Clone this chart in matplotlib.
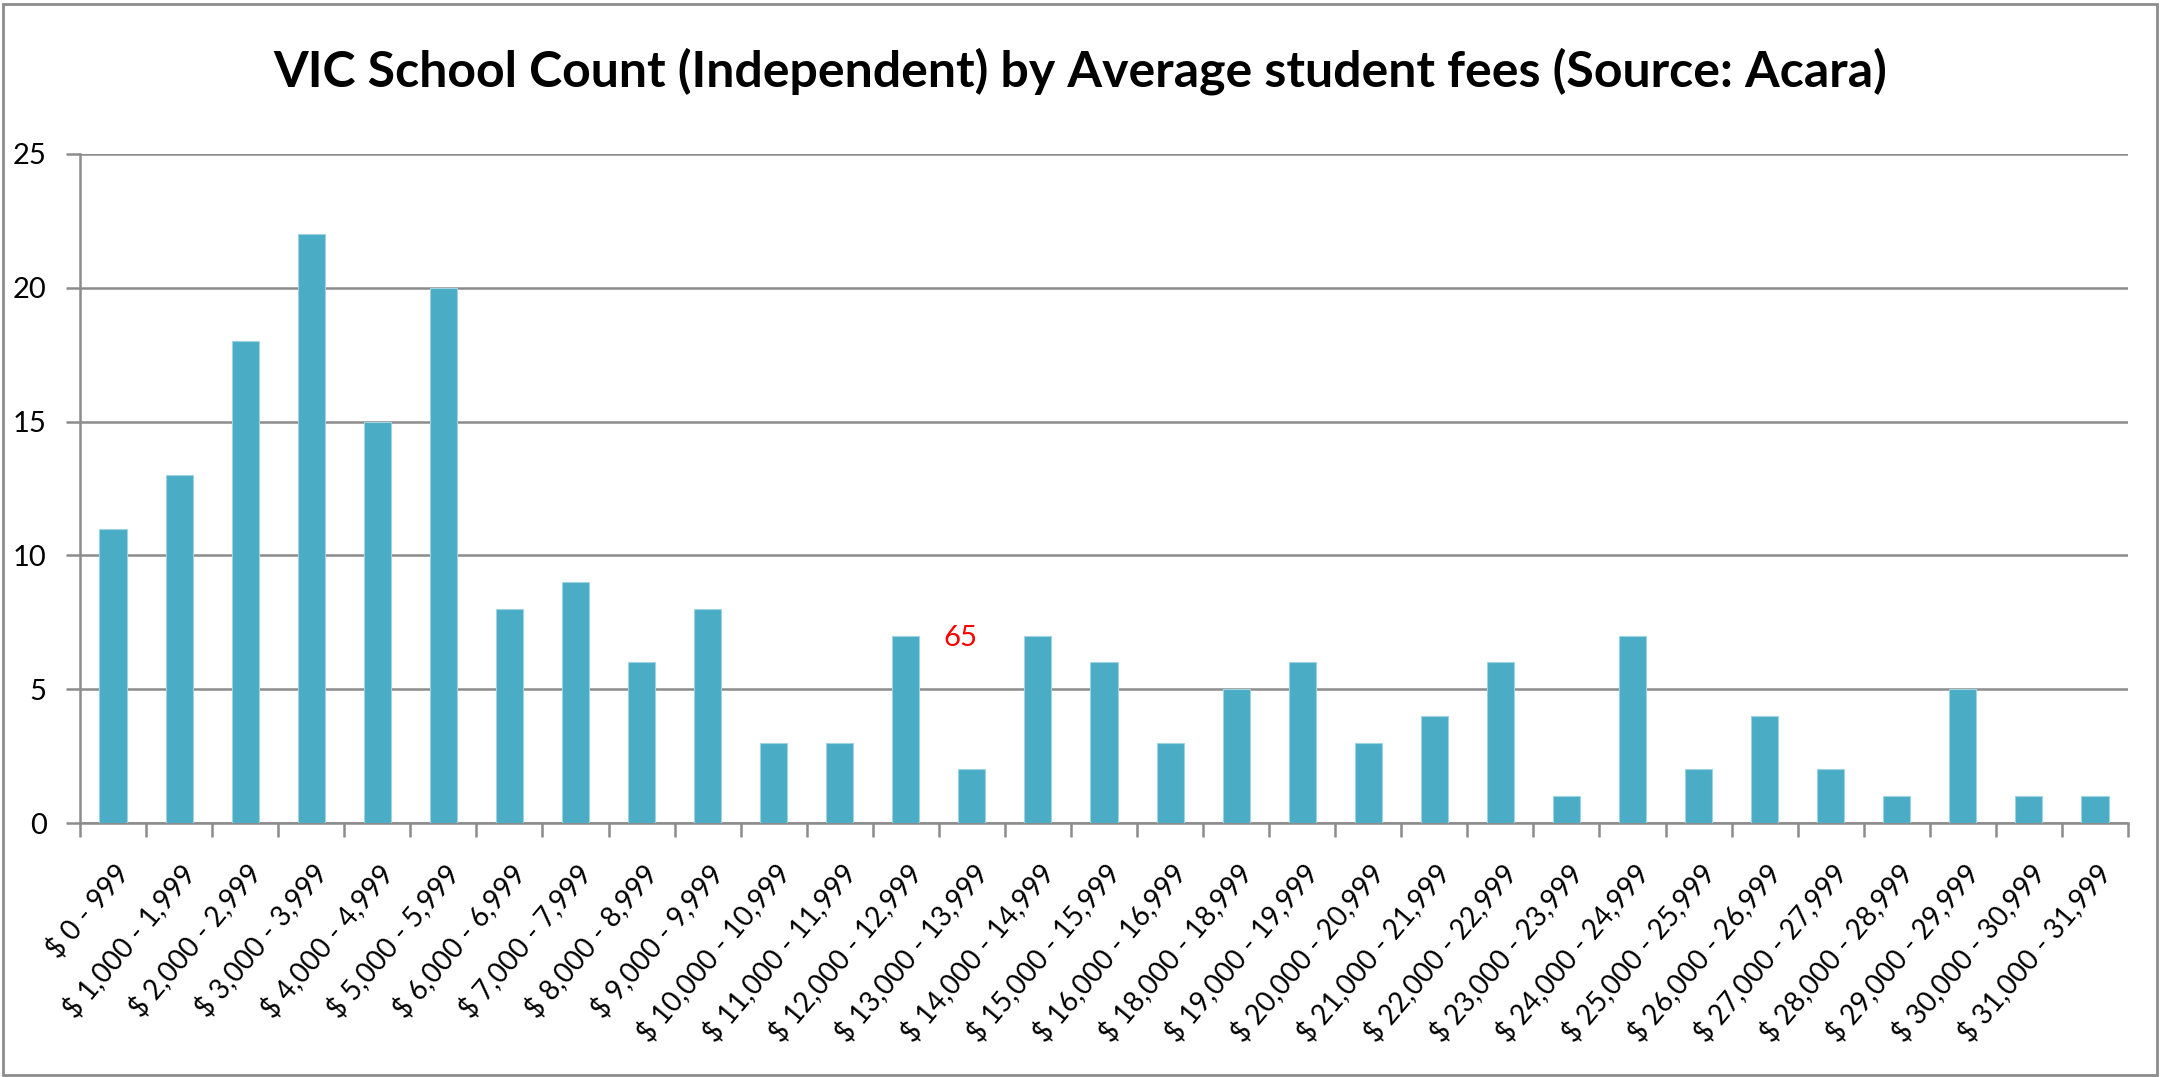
import matplotlib
matplotlib.use("Agg")
import matplotlib.pyplot as plt
import numpy as np

# fee bands (no 17,000 band in the source)
lows = list(range(0, 17)) + list(range(18, 32))
labels = []
for k in lows:
    if k == 0:
        labels.append("$ 0 - 999")
    else:
        labels.append(f"$ {k},000 - {k},999")
counts = [11, 13, 18, 22, 15, 20, 8, 9, 6, 8, 3, 3, 7, 2, 7, 6, 3,
          5, 6, 3, 4, 6, 1, 7, 2, 4, 2, 1, 5, 1, 1]

plt.rcParams['font.family'] = ['Lato', 'DejaVu Sans']

W, H = 2160, 1077
fig = plt.figure(figsize=(W / 100, H / 100), dpi=100)
ax = fig.add_axes([80 / W, 1 - 823 / H, (2128 - 80) / W, (823 - 154) / H])

x = np.arange(len(counts))
ax.bar(x, counts, width=0.41, color='#4BACC6', edgecolor='#9fd3e0', linewidth=0.8, zorder=3)

ax.set_xlim(-0.5, len(counts) - 0.5)
ax.set_ylim(0, 25)
ax.set_yticks(range(0, 26, 5))
ax.yaxis.grid(True, color='#8c8c8c', linewidth=1.8, zorder=0)
ax.tick_params(axis='y', length=10, width=1.8, color='#8c8c8c', labelsize=21, pad=14)
ax.set_xticks(np.arange(len(counts) + 1) - 0.5, minor=False)
ax.set_xticklabels([])
ax.tick_params(axis='x', which='major', length=10, width=1.8, color='#8c8c8c', direction='out')
ax.set_xticks(x, minor=True)
ax.set_xticklabels(labels, minor=True, rotation=50, ha='right', rotation_mode='anchor', fontsize=20)
ax.tick_params(axis='x', which='minor', length=0, pad=26)

for s in ['top', 'right']:
    ax.spines[s].set_visible(False)
for s in ['left', 'bottom']:
    ax.spines[s].set_color('#8c8c8c')
    ax.spines[s].set_linewidth(1.8)

fig.text(0.5, 1 - 71 / H, "VIC School Count (Independent) by Average student fees (Source: Acara)",
         ha='center', va='center', fontsize=36, fontweight='bold')

ax.text(12.82, 6.9, "65", color='red', fontsize=21, ha='center', va='center')

# chart border
fig.patches.append(plt.Rectangle((3 / W, 2 / H), 1 - 6 / W, 1 - 6 / H, transform=fig.transFigure,
                                 fill=False, edgecolor='#8c8c8c', linewidth=2))

fig.savefig("out.png", dpi=100)
